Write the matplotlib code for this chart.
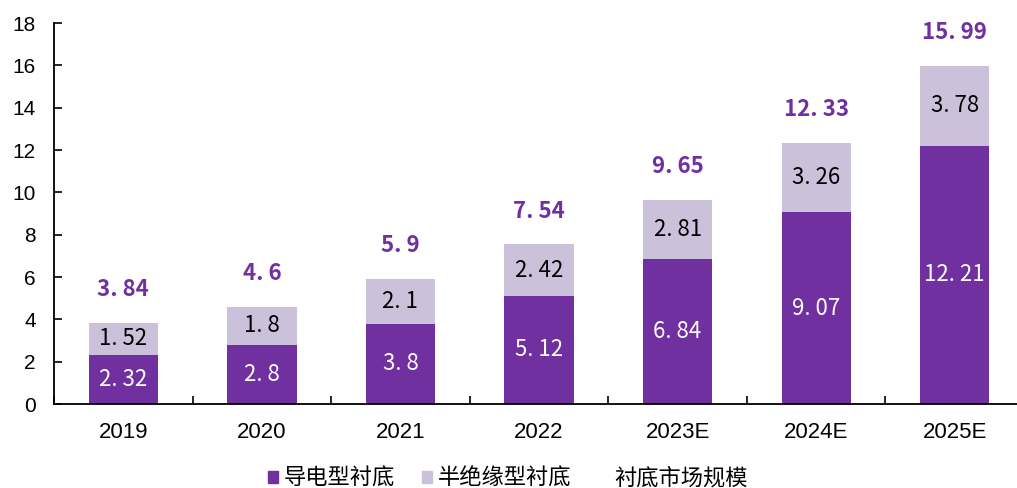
import matplotlib
matplotlib.use("Agg")
import matplotlib.pyplot as plt
from matplotlib.patches import Patch
from matplotlib.lines import Line2D
import numpy as np

years = ["2019", "2020", "2021", "2022", "2023E", "2024E", "2025E"]
conductive = [2.32, 2.8, 3.8, 5.12, 6.84, 9.07, 12.21]
semi_insulating = [1.52, 1.8, 2.1, 2.42, 2.81, 3.26, 3.78]
market_total = [3.84, 4.6, 5.9, 7.54, 9.65, 12.33, 15.99]

dark = "#7030A0"
light = "#CCC1DA"
cjk = ["Noto Sans CJK SC", "DejaVu Sans"]


def fmt(v):
    return f"{v:g}".replace(".", ". ")


fig = plt.figure(figsize=(10.17, 4.88), dpi=100)
ax = fig.add_axes([54 / 1017, 1 - 404 / 488, (1024 - 54) / 1017, (404 - 23) / 488])

x = np.arange(len(years))
w = 0.5
ax.bar(x, conductive, w, color=dark, label="导电型衬底")
ax.bar(x, semi_insulating, w, bottom=conductive, color=light, label="半绝缘型衬底")

for xi, c, s, t in zip(x, conductive, semi_insulating, market_total):
    ax.text(xi, c / 2, fmt(c), ha="center", va="center",
            color="white", fontsize=16, family=cjk)
    ax.text(xi, c + s / 2, fmt(s), ha="center", va="center",
            color="black", fontsize=16, family=cjk)
    ax.annotate(fmt(t), (xi, t), xytext=(0, 24), textcoords="offset points",
                ha="center", va="center", color=dark, fontsize=16,
                fontweight="bold", family=cjk)

ax.set_xlim(-0.5, len(years) - 0.5)
ax.set_ylim(0, 18)
ax.set_yticks(np.arange(0, 19, 2))
ax.set_xticks(x)
ax.set_xticklabels(years, family="Liberation Sans", fontsize=16)
ax.set_xticks(np.arange(-0.5, len(years), 1), minor=True)
ax.tick_params(axis="x", which="major", length=0, pad=13)
ax.tick_params(axis="x", which="minor", length=6, direction="in", width=1.2)
ax.tick_params(axis="y", length=6, direction="in", width=1.2, labelsize=15, pad=13)
for lab in ax.get_yticklabels():
    lab.set_family("Liberation Sans")

for side in ("top", "right"):
    ax.spines[side].set_visible(False)
for side in ("left", "bottom"):
    ax.spines[side].set_linewidth(1.3)

handles = [
    Patch(color=dark),
    Patch(color=light),
    Line2D([], [], color="none"),
]
labels = ["导电型衬底", "半绝缘型衬底", "衬底市场规模"]
fig.legend(handles, labels, loc="center", bbox_to_anchor=(508 / 1017, 1 - 478 / 488),
           ncol=3, frameon=False, prop={"family": cjk, "size": 16},
           handlelength=0.45, handleheight=0.45, handletextpad=0.25, columnspacing=1.25)

fig.savefig("out.png", dpi=100)
